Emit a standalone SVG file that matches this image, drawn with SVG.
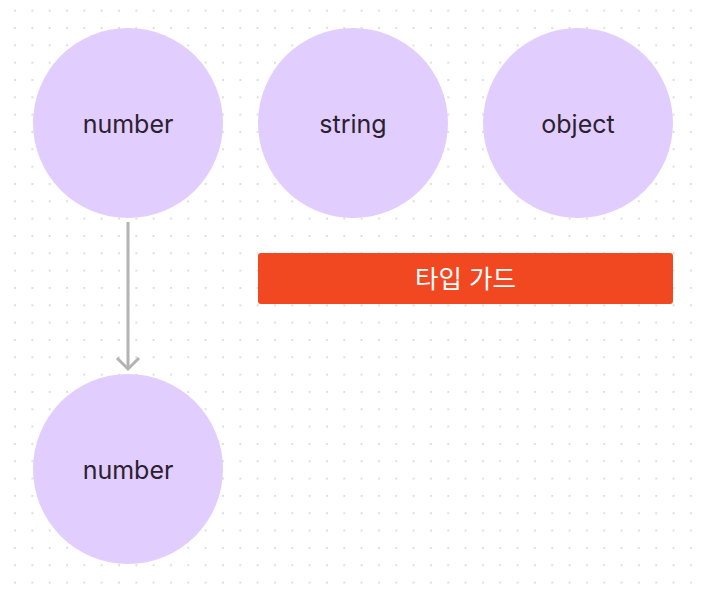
<svg xmlns="http://www.w3.org/2000/svg" width="704" height="591" viewBox="0 0 704 591">
<style>
.node circle{fill:#e2cdff}
.lbl{font-family:Inter,"Noto Sans",sans-serif;font-size:25px;fill:#2b2130;text-anchor:middle}
.guard{font-family:Inter,"Noto Sans CJK KR",sans-serif;font-size:25.5px;fill:#ffffff;text-anchor:middle}
.conn{stroke:#b3b3b3;stroke-width:3;fill:none}
</style>
<defs>
<pattern id="dots" x="6.33" y="2" width="17.33" height="17.33" patternUnits="userSpaceOnUse">
<circle cx="8.67" cy="8.67" r="1" fill="#d4d4d4"/>
</pattern>
</defs>
<rect width="704" height="591" fill="#ffffff"/>
<rect width="704" height="591" fill="url(#dots)"/>
<g id="connectors">
<path class="conn" d="M128 222 V369"/>
<path class="conn" d="M117 358 L128 369 L139 358"/>
</g>
<g id="node-number-top" class="node">
<circle cx="128" cy="123" r="95"/>
<text class="lbl" x="128" y="133">number</text>
</g>
<g id="node-string" class="node">
<circle cx="353" cy="123" r="95"/>
<text class="lbl" x="353" y="133">string</text>
</g>
<g id="node-object" class="node">
<circle cx="578" cy="123" r="95"/>
<text class="lbl" x="578" y="133">object</text>
</g>
<g id="node-typeguard">
<rect x="258" y="253" width="415" height="51" rx="3" fill="#f24822"/>
<text class="guard" x="465.5" y="287.5">타입 가드</text>
</g>
<g id="node-number-bottom" class="node">
<circle cx="128" cy="469" r="95"/>
<text class="lbl" x="128" y="479">number</text>
</g>
</svg>
